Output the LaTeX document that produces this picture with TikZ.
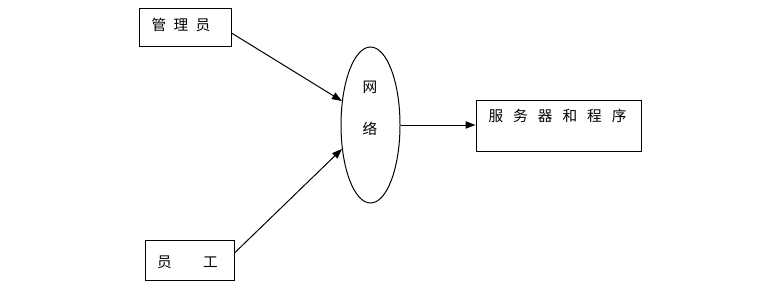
\documentclass[tikz,border=0pt]{standalone}
\usepackage{fontspec}
\newfontfamily\cjk{Noto Sans CJK SC}
\usetikzlibrary{arrows.meta,shapes.geometric}
\begin{document}
\begin{tikzpicture}[x=0.75pt,y=-0.75pt,
  lbl/.style={font=\cjk\fontsize{11pt}{12pt}\selectfont,inner sep=0pt},
  conn/.style={line width=0.75pt,-{Triangle[length=7.5pt,width=5.5pt]}}]
\useasboundingbox (0,0) rectangle (759,285);
\node[draw,line width=0.75pt,minimum width=69pt,minimum height=28.5pt,inner sep=0pt] (admin) at (185,28) {};
\node[lbl] (admint) at (181,25) {管\hspace{5.5pt}理\hspace{5.5pt}员};
\node[draw,line width=0.75pt,minimum width=66.75pt,minimum height=30pt,inner sep=0pt] (staff) at (189.5,260) {};
\node[lbl] (stafft) at (187.5,262) {员\hspace{23.5pt}工};
\node[draw,ellipse,line width=0.75pt,minimum width=44.25pt,minimum height=117pt,inner sep=0pt] (net) at (370.5,125) {};
\node[lbl] (net1) at (370,87) {网};
\node[lbl] (net2) at (370,129) {络};
\node[draw,line width=0.75pt,minimum width=123.75pt,minimum height=38.25pt,inner sep=0pt] (srv) at (558.5,125.5) {};
\node[lbl] (srvt) at (557.5,116) {服\hspace{7.5pt}务\hspace{7.5pt}器\hspace{7.5pt}和\hspace{7.5pt}程\hspace{7.5pt}序};
\draw[conn] ([yshift=-3.75pt]admin.east) -- (net.140);
\draw[conn] ([yshift=5.25pt]staff.east) -- (net.220);
\draw[conn] (net.east) -- (net.east -| srv.west);
\end{tikzpicture}
\end{document}
